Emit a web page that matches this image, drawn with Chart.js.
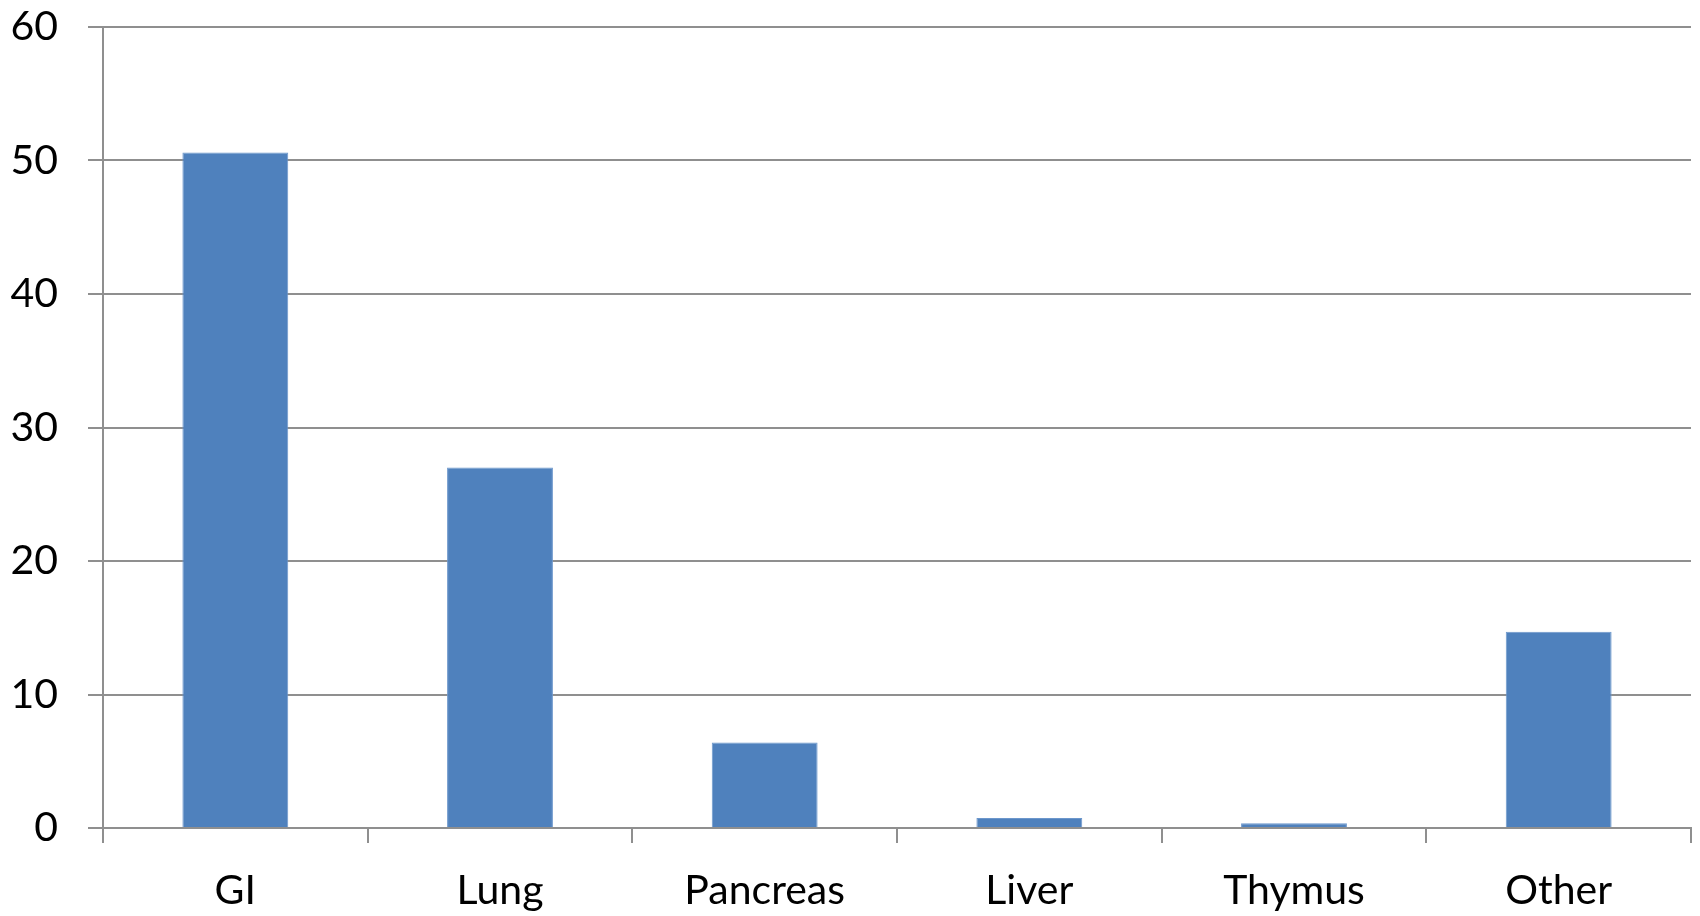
<!DOCTYPE html>
<html>
<head>
<meta charset="utf-8">
<script src="https://cdn.jsdelivr.net/npm/chart.js@4"></script>
<style>
  html, body { margin: 0; padding: 0; background: #fff; }
  #wrap { width: 1700px; height: 916px; }
</style>
</head>
<body>
<div id="wrap"><canvas id="chart"></canvas></div>
<script>
const sites = ["GI", "Lung", "Pancreas", "Liver", "Thymus", "Other"];
const percent = [50.6, 27.0, 6.4, 0.75, 0.35, 14.7];
const yTicks = [0, 10, 20, 30, 40, 50, 60];

const gray = "#8f8f8f";
const font = { family: "Lato", size: 41 };

const ctx = document.getElementById("chart");

const theChart = new Chart(ctx, {
  type: "bar",
  data: {
    labels: sites,
    datasets: [
      {
        data: percent,
        backgroundColor: "#4f81bd",
        borderColor: "#6c97cc",
        borderWidth: 1,
        barPercentage: 0.4,
        categoryPercentage: 1,
      },
    ],
  },
  options: {
    responsive: true,
    maintainAspectRatio: false,
    animation: false,
    layout: { padding: { top: 27, right: 9, left: 0, bottom: 0 } },
    plugins: { legend: { display: false }, tooltip: { enabled: false } },
    scales: {
      x: {
        grid: { offset: true, drawOnChartArea: false, drawTicks: true, tickLength: 15, color: gray, lineWidth: 2 },
        border: { color: gray, width: 2 },
        ticks: { color: "#000", font: font, padding: 23 },
        afterFit: (s) => { s.height = 88; s.paddingLeft = 0; s.paddingRight = 0; },
      },
      y: {
        min: 0,
        max: 60,
        afterBuildTicks: (s) => { s.ticks = yTicks.map((v) => ({ value: v })); },
        grid: { color: gray, lineWidth: 2, tickLength: 15 },
        border: { color: gray, width: 2 },
        ticks: { color: "#000", font: font, padding: 30 },
        afterFit: (s) => { s.width = 103; s.paddingTop = 0; s.paddingBottom = 0; },
      },
    },
  },
});
</script>
</body>
</html>
